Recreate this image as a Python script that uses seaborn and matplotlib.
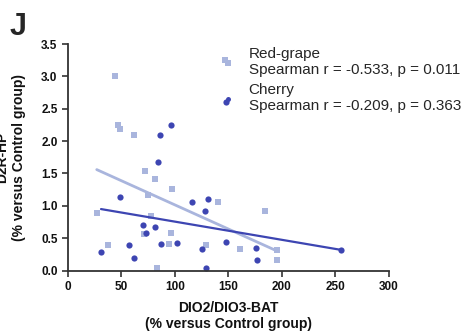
import numpy as np
import pandas as pd
import seaborn as sns
import matplotlib.pyplot as plt

# Red-grape group (squares)
grape_x = [43.8, 46.3, 49, 62, 147, 71.6, 81.5, 74.7, 96.9, 26.9, 78, 37, 71,
           96, 94.7, 129.3, 83, 140.7, 184, 160.8, 195.4, 195.7]
grape_y = [3.0, 2.25, 2.18, 2.10, 3.26, 1.54, 1.42, 1.17, 1.26, 0.895, 0.84, 0.40, 0.56,
           0.58, 0.415, 0.40, 0.04, 1.065, 0.92, 0.33, 0.31, 0.16]

# Cherry group (circles)
cherry_x = [147.8, 86.4, 96, 84, 49, 30.9, 57.4, 62, 70, 73, 80.9, 87.3, 102,
            116, 128.4, 130.6, 125, 129, 147.5, 175.6, 177, 255]
cherry_y = [2.6, 2.10, 2.25, 1.68, 1.13, 0.29, 0.40, 0.19, 0.70, 0.58, 0.67, 0.41, 0.43,
            1.06, 0.92, 1.11, 0.33, 0.04, 0.44, 0.35, 0.16, 0.31]

# fitted lines
grape_fit_x = [26.9, 195.7]
grape_fit_y = [1.56, 0.30]
cherry_fit_x = [30.9, 255]
cherry_fit_y = [0.95, 0.32]

grape_label = "Red-grape\nSpearman r = -0.533, p = 0.011"
cherry_label = "Cherry\nSpearman r = -0.209, p = 0.363"

light = "#A9B5DD"
dark = "#3D45B2"

sns.set_style("ticks")
plt.rcParams['font.family'] = ['Liberation Sans', 'DejaVu Sans']

fig = plt.figure(figsize=(4.72, 3.34), dpi=100)
ax = fig.add_axes([0.144, 0.19, 0.68, 0.678])

grape = pd.DataFrame({"x": grape_x, "y": grape_y})
cherry = pd.DataFrame({"x": cherry_x, "y": cherry_y})

sns.lineplot(x=grape_fit_x, y=grape_fit_y, ax=ax, color=light, lw=2)
sns.lineplot(x=cherry_fit_x, y=cherry_fit_y, ax=ax, color=dark, lw=1.6)
sns.scatterplot(data=grape, x="x", y="y", ax=ax, color=light, marker="s", s=22,
                linewidth=0, label=grape_label)
sns.scatterplot(data=cherry, x="x", y="y", ax=ax, color=dark, marker="o", s=20,
                linewidth=0, label=cherry_label)

ax.set_xlim(0, 300)
ax.set_ylim(0, 3.5)
ax.set_xticks([0, 50, 100, 150, 200, 250, 300])
ax.set_yticks(np.arange(0, 3.51, 0.5))
ax.yaxis.set_major_formatter(plt.FormatStrFormatter('%.1f'))
ax.tick_params(axis="both", labelsize=8.5, width=1.2, length=4, color="#333333",
               labelcolor="#111111")
for lab in ax.get_xticklabels() + ax.get_yticklabels():
    lab.set_fontweight("bold")
for s in ["left", "bottom"]:
    ax.spines[s].set_linewidth(1.3)
    ax.spines[s].set_color("#333333")
sns.despine(ax=ax)

ax.set_xlabel("DIO2/DIO3-BAT\n(% versus Control group)", fontsize=10, fontweight="bold",
              labelpad=6, color="#111111")
# the reference crops the first line of this label at the left edge
ax.set_ylabel("D2R-HP\n(% versus Control group)", fontsize=10, fontweight="bold",
              labelpad=11, color="#111111")

leg = ax.legend(loc="upper left", bbox_to_anchor=(0.427, 1.05), frameon=False,
                fontsize=11, handletextpad=0.76, handlelength=1.2, markerscale=0.8,
                labelspacing=0.4)
for col in leg._legend_handle_box.get_children():
    for item in col.get_children():
        item.align = "center"

fig.text(0.02, 0.965, "J", fontsize=22, fontweight="bold", va="top")

fig.savefig("out.png", dpi=100)
